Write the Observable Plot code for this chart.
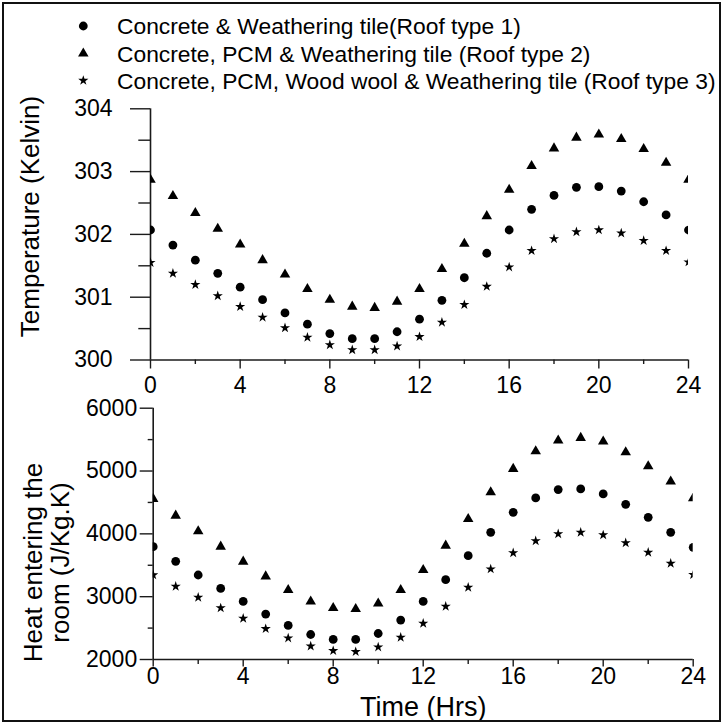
<!DOCTYPE html>
<html>
<head>
<meta charset="utf-8">
<script src="https://cdn.jsdelivr.net/npm/d3@7"></script>
<script src="https://cdn.jsdelivr.net/npm/@observablehq/plot@0.6"></script>
<style>
html, body { margin: 0; padding: 0; background: #fff; }
#fig { position: relative; width: 723px; height: 724px; overflow: hidden; background: #fff; font-family: "Liberation Sans", Arial, sans-serif; }
#frame { position: absolute; left: 2px; top: 2px; width: 719px; height: 720px; box-sizing: border-box; border: 2px solid #111; pointer-events: none; z-index: 5; }
#fig svg { position: absolute; left: 0; }
</style>
</head>
<body>
<div id="fig"><div id="frame"></div></div>
<script>
// ---------- data ----------
const hours = [0, 1, 2, 3, 4, 5, 6, 7, 8, 9, 10, 11, 12, 13, 14, 15, 16, 17, 18, 19, 20, 21, 22, 23, 24];

// Temperature (Kelvin)
const tempRoof1 = [302.07, 301.83, 301.59, 301.38, 301.16, 300.96, 300.75, 300.57, 300.42, 300.34, 300.34, 300.45, 300.65, 300.95, 301.31, 301.70, 302.07, 302.40, 302.62, 302.75, 302.76, 302.69, 302.52, 302.31, 302.07];
const tempRoof2 = [302.87, 302.61, 302.34, 302.09, 301.84, 301.59, 301.36, 301.13, 300.96, 300.85, 300.83, 300.93, 301.13, 301.45, 301.85, 302.29, 302.71, 303.09, 303.37, 303.54, 303.59, 303.52, 303.36, 303.14, 302.87];
const tempRoof3 = [301.55, 301.38, 301.20, 301.02, 300.85, 300.68, 300.51, 300.36, 300.24, 300.16, 300.16, 300.22, 300.37, 300.60, 300.88, 301.17, 301.48, 301.74, 301.93, 302.04, 302.07, 302.02, 301.90, 301.74, 301.56];

// Heat entering the room (J/Kg.K)
const heatRoof1 = [3796, 3562, 3345, 3131, 2924, 2723, 2542, 2398, 2319, 2319, 2414, 2628, 2924, 3270, 3653, 4024, 4343, 4572, 4704, 4715, 4636, 4470, 4263, 4024, 3785];
const heatRoof2 = [4556, 4290, 4040, 3796, 3557, 3323, 3106, 2924, 2820, 2803, 2892, 3106, 3425, 3812, 4237, 4661, 5034, 5315, 5485, 5528, 5469, 5299, 5076, 4832, 4566];
const heatRoof3 = [3345, 3163, 2988, 2820, 2653, 2489, 2341, 2213, 2139, 2123, 2198, 2351, 2574, 2845, 3147, 3440, 3696, 3887, 3998, 4024, 3982, 3855, 3705, 3530, 3350];

// ticks
const hourTicks = [0, 4, 8, 12, 16, 20, 24];
const hourMinorTicks = [2, 6, 10, 14, 18, 22];
const tempTicks = [300, 301, 302, 303, 304];
const tempMinorTicks = [300.5, 301.5, 302.5, 303.5];
const heatTicks = [2000, 3000, 4000, 5000, 6000];
const heatMinorTicks = [2500, 3500, 4500, 5500];

// labels
const legendLabels = [
  "Concrete & Weathering tile(Roof type 1)",
  "Concrete, PCM & Weathering tile (Roof type 2)",
  "Concrete, PCM, Wood wool & Weathering tile (Roof type 3)"
];
const legendSymbols = ["circle", "triangle", "star"];
const tempLabel = "Temperature (Kelvin)";
const heatLabel = "Heat entering the\nroom (J/Kg.K)";
const timeLabel = "Time (Hrs)";

// ---------- drawing ----------
const FONT = "'Liberation Sans', Arial, Helvetica, sans-serif";
const AX = "#1a1a1a";
const rowsOf = (vals) => hours.map((h, i) => ({hour: h, value: vals[i]}));
const symR = {circle: 4.4, triangle: 3.9, star: 3.2};

function seriesMarks(s1, s2, s3) {
  return [
    Plot.dot(rowsOf(s1), {x: "hour", y: "value", symbol: "circle", r: symR.circle, fill: "#000", stroke: "none", clip: true}),
    Plot.dot(rowsOf(s2), {x: "hour", y: "value", symbol: "triangle", r: symR.triangle, fill: "#000", stroke: "none", clip: true}),
    Plot.dot(rowsOf(s3), {x: "hour", y: "value", symbol: "star", r: symR.star, fill: "#000", stroke: "none", clip: true})
  ];
}

const baseStyle = {fontFamily: FONT, fontSize: "23px", color: "#000", background: "transparent", overflow: "visible"};

const topPlot = Plot.plot({
  width: 723, height: 396,
  marginTop: 108.3, marginBottom: 36.5, marginLeft: 150, marginRight: 35,
  style: baseStyle,
  x: {domain: [0, 24], label: null},
  y: {domain: [300, 304], label: null},
  marks: [
    Plot.axisY(tempTicks, {tickSize: 20, tickPadding: 18, fontSize: 23, stroke: AX, strokeWidth: 1.4, label: null, tickFormat: d => String(d)}),
    Plot.axisY(tempMinorTicks, {tickSize: 11.7, stroke: AX, strokeWidth: 1.4, label: null, tickFormat: () => ""}),
    Plot.axisX(hourTicks, {tickSize: 9, tickPadding: 8, fontSize: 23, stroke: AX, strokeWidth: 1.4, label: null, tickFormat: d => String(d)}),
    Plot.axisX(hourMinorTicks, {tickSize: 4.5, stroke: AX, strokeWidth: 1.4, label: null, tickFormat: () => ""}),
    Plot.ruleX([0], {stroke: AX, strokeWidth: 1.6}),
    Plot.ruleY([300], {stroke: AX, strokeWidth: 1.6}),
    ...seriesMarks(tempRoof1, tempRoof2, tempRoof3),
    Plot.text([tempLabel], {text: d => d, frameAnchor: "left", rotate: -90, dx: -111.7, dy: -17.9, textAnchor: "middle", lineAnchor: "bottom", fontSize: 26, fill: "#000"})
  ]
});
topPlot.style.top = "0px";

const bottomPlot = Plot.plot({
  width: 723, height: 328,
  marginTop: 11.7, marginBottom: 65, marginLeft: 152.7, marginRight: 30.3,
  style: baseStyle,
  x: {domain: [0, 24], label: null},
  y: {domain: [2000, 6000], label: null},
  marks: [
    Plot.axisY(heatTicks, {tickSize: 13, tickPadding: 3, fontSize: 23, stroke: AX, strokeWidth: 1.4, label: null, tickFormat: d => String(d)}),
    Plot.axisY(heatMinorTicks, {tickSize: 5, stroke: AX, strokeWidth: 1.4, label: null, tickFormat: () => ""}),
    Plot.axisX(hourTicks, {tickSize: 7.5, tickPadding: 1, fontSize: 23, stroke: AX, strokeWidth: 1.4, label: null, tickFormat: d => String(d)}),
    Plot.axisX(hourMinorTicks, {tickSize: 5, stroke: AX, strokeWidth: 1.4, label: null, tickFormat: () => ""}),
    Plot.ruleX([0], {stroke: AX, strokeWidth: 1.6}),
    Plot.ruleY([2000], {stroke: AX, strokeWidth: 1.6}),
    ...seriesMarks(heatRoof1, heatRoof2, heatRoof3),
    Plot.text([heatLabel], {text: d => d, frameAnchor: "left", rotate: -90, dx: -84.2, dy: 28.6, textAnchor: "middle", lineAnchor: "bottom", lineHeight: 1.02, fontSize: 26, fill: "#000"}),
    Plot.text([timeLabel], {text: d => d, frameAnchor: "bottom", dy: 56, textAnchor: "middle", lineAnchor: "bottom", fontSize: 27, fill: "#000"})
  ]
});
bottomPlot.style.top = "396px";

// legend
const legend = d3.create("svg")
  .attr("width", 723).attr("height", 100)
  .attr("viewBox", "0 0 723 100")
  .style("top", "0px")
  .style("font-family", FONT);
const symType = {circle: d3.symbolCircle, triangle: d3.symbolTriangle, star: d3.symbolStar};
const rowCenters = [26, 53.5, 80.5];
legendLabels.forEach((lab, i) => {
  const s = legendSymbols[i];
  legend.append("path")
    .attr("transform", `translate(83.3,${rowCenters[i]})`)
    .attr("d", d3.symbol(symType[s], Math.PI * symR[s] * symR[s])())
    .attr("fill", "#000");
  legend.append("text")
    .attr("x", 117).attr("y", rowCenters[i] + 8.2)
    .attr("font-size", 22.8)
    .attr("fill", "#000")
    .text(lab);
});

const fig = document.getElementById("fig");
fig.appendChild(topPlot);
fig.appendChild(bottomPlot);
fig.appendChild(legend.node());
</script>
</body>
</html>
